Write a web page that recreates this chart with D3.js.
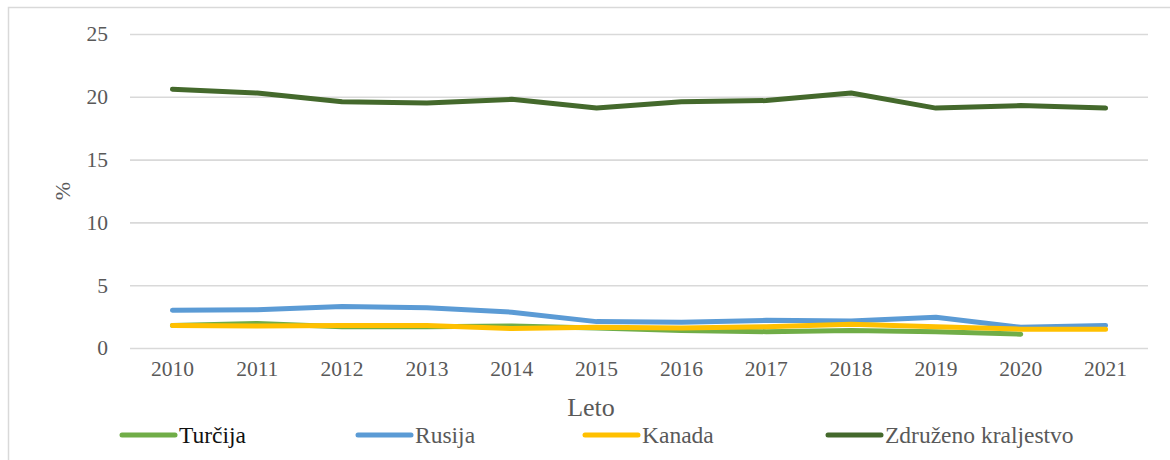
<!DOCTYPE html>
<html>
<head>
<meta charset="utf-8">
<script src="https://cdn.jsdelivr.net/npm/d3@7"></script>
<style>
  body { margin: 0; background: #fff; }
</style>
</head>
<body>
<div id="chart"></div>
<script>
// Data
var years = ['2010', '2011', '2012', '2013', '2014', '2015', '2016', '2017', '2018', '2019', '2020', '2021'];
var turcija = [1.8, 1.95, 1.7, 1.7, 1.75, 1.6, 1.4, 1.3, 1.4, 1.3, 1.1, null];
var rusija = [3.0, 3.05, 3.3, 3.2, 2.85, 2.1, 2.05, 2.2, 2.15, 2.45, 1.65, 1.8];
var kanada = [1.8, 1.75, 1.8, 1.8, 1.55, 1.65, 1.6, 1.7, 1.9, 1.7, 1.5, 1.5];
var zdruzeno = [20.6, 20.3, 19.6, 19.5, 19.8, 19.1, 19.6, 19.7, 20.3, 19.1, 19.3, 19.1];
var seriesNames = ['Turčija', 'Rusija', 'Kanada', 'Združeno kraljestvo'];
var seriesColors = ['#70ad47', '#5b9bd5', '#ffc000', '#44692c'];
var yTicks = [0, 5, 10, 15, 20, 25];

var width = 1170;
var height = 460;
var plot = { left: 130, right: 1148, top: 34, bottom: 348 };
var font = '"Liberation Serif", "Times New Roman", serif';

var series = [turcija, rusija, kanada, zdruzeno].map(function(values, i) {
  return { name: seriesNames[i], color: seriesColors[i], values: values };
});

var svg = d3.select('#chart').append('svg')
    .attr('width', width)
    .attr('height', height)
    .style('font-family', font);

// chart area border (only top and left edges are inside the frame)
svg.append('rect')
    .attr('x', 8.5).attr('y', 7.5)
    .attr('width', width).attr('height', height)
    .attr('fill', 'none')
    .attr('stroke', '#d9d9d9')
    .attr('stroke-width', 1.5);

var x = d3.scaleBand()
    .domain(years)
    .range([plot.left, plot.right]);

var y = d3.scaleLinear()
    .domain([0, 25])
    .range([plot.bottom, plot.top]);

// gridlines + y labels
var yAxis = svg.append('g')
    .attr('transform', 'translate(' + plot.left + ',0)')
    .call(d3.axisLeft(y).tickValues(yTicks).tickSize(-(plot.right - plot.left)).tickPadding(22));
yAxis.attr('font-family', null).attr('font-size', null);
yAxis.select('.domain').remove();
yAxis.selectAll('.tick line').attr('stroke', '#d9d9d9').attr('stroke-width', 1.6);
yAxis.selectAll('.tick text')
    .attr('fill', '#595959')
    .style('font-family', font)
    .style('font-size', '21.5px');

// x labels
var xAxis = svg.append('g')
    .attr('transform', 'translate(0,' + plot.bottom + ')')
    .call(d3.axisBottom(x).tickSize(0).tickPadding(13));
xAxis.attr('font-family', null).attr('font-size', null);
xAxis.select('.domain').remove();
xAxis.selectAll('.tick text')
    .attr('fill', '#595959')
    .style('font-family', font)
    .style('font-size', '21.5px');

// axis titles
svg.append('text')
    .attr('x', 591)
    .attr('y', 416)
    .attr('text-anchor', 'middle')
    .attr('fill', '#595959')
    .style('font-size', '26px')
    .text('Leto');

svg.append('text')
    .attr('transform', 'translate(70,191)rotate(-90)')
    .attr('text-anchor', 'middle')
    .attr('fill', '#595959')
    .style('font-size', '22px')
    .text('%');

// lines
var line = d3.line()
    .defined(function(d) { return d != null; })
    .x(function(d, i) { return x(years[i]) + x.bandwidth() / 2; })
    .y(function(d) { return y(d); });

svg.selectAll('path.series')
    .data(series)
    .enter().append('path')
    .attr('class', 'series')
    .attr('d', function(d) { return line(d.values); })
    .attr('fill', 'none')
    .attr('stroke', function(d) { return d.color; })
    .attr('stroke-width', 5)
    .attr('stroke-linecap', 'round')
    .attr('stroke-linejoin', 'round');

// legend
var legendX = [120, 356, 583, 826];
var legend = svg.selectAll('g.legend')
    .data(series)
    .enter().append('g')
    .attr('class', 'legend')
    .attr('transform', function(d, i) { return 'translate(' + legendX[i] + ',435)'; });

legend.append('line')
    .attr('x1', 2).attr('x2', 55)
    .attr('y1', 0).attr('y2', 0)
    .attr('stroke', function(d) { return d.color; })
    .attr('stroke-width', 5)
    .attr('stroke-linecap', 'round');

legend.append('text')
    .attr('x', 59)
    .attr('y', 8)
    .attr('fill', function(d, i) { return i == 0 ? '#111' : '#595959'; })
    .style('font-size', '23.5px')
    .text(function(d) { return d.name; });
</script>
</body>
</html>
